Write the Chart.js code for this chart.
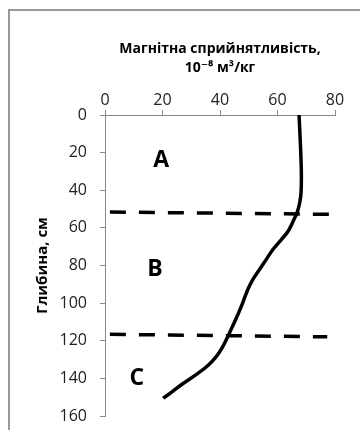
<!DOCTYPE html>
<html>
<head>
<meta charset="utf-8">
<script src="https://cdn.jsdelivr.net/npm/chart.js@4.4.0/dist/chart.umd.min.js"></script>
<style>
  body { margin: 0; background: #fff; }
  #wrap { position: relative; width: 360px; height: 430px; overflow: hidden; }
  #frame { position: absolute; left: 8px; top: 9px; width: 360px; height: 430px;
           border-left: 2px solid #999; border-top: 2px solid #999; }
  canvas { position: absolute; left: 0; top: 0; }
</style>
</head>
<body>
<div id="wrap">
  <div id="frame"></div>
  <canvas id="chart" width="360" height="430"></canvas>
</div>
<script>
// профіль магнітної сприйнятливості
const depths = [0, 10, 20.5, 31, 41, 46, 51, 56, 61.5, 66.5, 71.5, 77, 82, 87, 92, 97, 102.5, 107.5, 112.5, 117.5, 123, 128, 133, 138, 143, 148, 150.5];
const susceptibility = [67.5, 67.8, 68.1, 68.3, 68.2, 67.8, 67.0, 65.6, 63.8, 61.2, 58.4, 56.0, 53.8, 51.6, 49.9, 48.6, 47.2, 45.8, 44.3, 42.8, 41.0, 38.9, 35.9, 31.7, 26.9, 22.6, 20.2];

// межі горизонтів (пунктир)
const boundaryX = [1.7, 78.9];
const boundaryUpper = [51.6, 52.8];
const boundaryLowerX = [1.7, 77.3];
const boundaryLower = [116.6, 117.9];

// підписи горизонтів
const zoneNames = ['A', 'B', 'C'];
const zoneX = [19.5, 17.4, 11.1];
const zoneY = [24, 82, 139.8];

const xTicks = [0, 20, 40, 60, 80];
const yTicks = [0, 20, 40, 60, 80, 100, 120, 140, 160];

const FONT = "'Open Sans', 'DejaVu Sans', sans-serif";

const zoneLabels = {
  id: 'zoneLabels',
  afterDatasetsDraw(chart) {
    const { ctx, scales } = chart;
    ctx.save();
    ctx.font = 'bold 23px ' + FONT;
    ctx.fillStyle = '#000';
    ctx.textAlign = 'center';
    ctx.textBaseline = 'middle';
    zoneNames.forEach((name, i) => {
      ctx.fillText(name, scales.x.getPixelForValue(zoneX[i]), scales.y.getPixelForValue(zoneY[i]));
    });
    ctx.restore();
  }
};

const toPoints = (xs, ys) => xs.map((x, i) => ({ x: x, y: ys[i] }));

new Chart(document.getElementById('chart'), {
  type: 'scatter',
  data: {
    datasets: [
      {
        data: toPoints(susceptibility, depths),
        showLine: true,
        borderColor: '#000',
        borderWidth: 3.5,
        pointRadius: 0,
        tension: 0.4,
        borderCapStyle: 'butt'
      },
      {
        data: toPoints(boundaryX, boundaryUpper),
        showLine: true,
        borderColor: '#000',
        borderWidth: 3.5,
        borderDash: [16, 13],
        pointRadius: 0
      },
      {
        data: toPoints(boundaryLowerX, boundaryLower),
        showLine: true,
        borderColor: '#000',
        borderWidth: 3.5,
        borderDash: [16, 13],
        pointRadius: 0
      }
    ]
  },
  options: {
    responsive: false,
    animation: false,
    layout: { padding: { left: 32, top: 39, right: 25, bottom: 14 } },
    plugins: { legend: { display: false }, tooltip: { enabled: false } },
    scales: {
      x: {
        position: 'top',
        min: 0,
        max: 80,
        afterBuildTicks: (s) => { s.ticks = xTicks.map(v => ({ value: v })); },
        afterFit: (s) => { s.height = 115 - 39; s.paddingLeft = 0; s.paddingRight = 0; },
        grid: { drawOnChartArea: false, tickLength: 5, color: '#888' },
        border: { color: '#888', width: 1 },
        ticks: { color: '#222', font: { family: FONT, size: 16 }, padding: 0 },
        title: {
          display: true,
          text: ['Магнітна сприйнятливість,', '10⁻⁸ м³/кг'],
          color: '#000',
          font: { family: FONT, size: 14, weight: 'bold', lineHeight: 1.4 },
          padding: { top: 0, bottom: 0 }
        }
      },
      y: {
        reverse: true,
        min: 0,
        max: 160,
        afterBuildTicks: (s) => { s.ticks = yTicks.map(v => ({ value: v })); },
        afterFit: (s) => { s.width = 105 - 32; s.paddingTop = 0; s.paddingBottom = 0; },
        grid: { drawOnChartArea: false, tickLength: 5, color: '#888' },
        border: { color: '#888', width: 1 },
        ticks: { color: '#222', font: { family: FONT, size: 16 }, padding: 13 },
        title: {
          display: true,
          text: 'Глибина, см',
          color: '#000',
          font: { family: FONT, size: 15, weight: 'bold' },
          padding: { top: 2, bottom: 0 }
        }
      }
    }
  },
  plugins: [zoneLabels]
});
</script>
</body>
</html>
